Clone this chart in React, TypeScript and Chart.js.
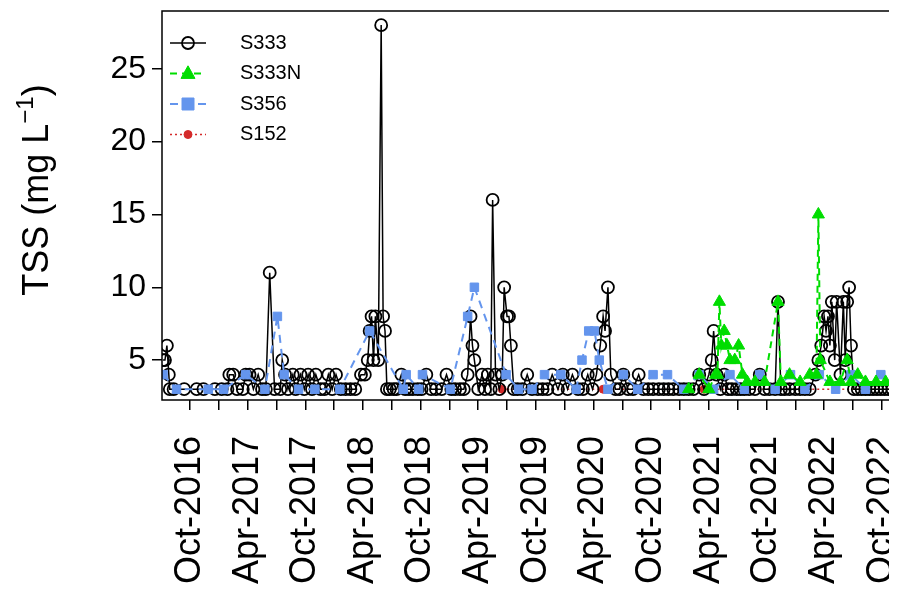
import { useEffect, useRef } from 'react';
import Chart from 'chart.js/auto';

// x values are month index counted from Jan 2016 (0 = Jan-2016)
const monthNames = ['Jan', 'Feb', 'Mar', 'Apr', 'May', 'Jun', 'Jul', 'Aug', 'Sep', 'Oct', 'Nov', 'Dec'];
const xTicks = [9, 12, 15, 18, 21, 24, 27, 30, 33, 36, 39, 42, 45, 48, 51, 54, 57, 60, 63, 66, 69, 72, 75, 78, 81];
const yTicks = [5, 10, 15, 20, 25];

const s333: [number, number][] = [
  [6.2, 5], [6.4, 5], [6.6, 6], [6.8, 4], [6.9, 3], [7.3, 3], [8.4, 3], [9.7, 3], [10.4, 3], [11.6, 3],
  [12.3, 3], [12.9, 3], [13.1, 4], [13.5, 4], [13.9, 3], [14.5, 3], [14.8, 4], [15.2, 4], [15.6, 3], [16.1, 4],
  [16.5, 3], [16.9, 3], [17.3, 11], [17.8, 3], [18.4, 3], [18.6, 5], [18.9, 4], [19.2, 3], [19.7, 4], [20.0, 3],
  [20.5, 4], [20.9, 3], [21.3, 4], [21.7, 3], [22.1, 4], [22.6, 3], [23.0, 3], [23.4, 4], [23.8, 3], [24.2, 4],
  [24.7, 3], [25.2, 3], [25.7, 3], [26.2, 3], [26.8, 4], [27.2, 4], [27.5, 5], [27.7, 7], [27.9, 8], [28.1, 5],
  [28.3, 8], [28.6, 5], [28.9, 28], [29.1, 8], [29.3, 7], [29.5, 3], [29.8, 3], [30.2, 3], [30.5, 3], [31.0, 4],
  [31.4, 3], [31.8, 3], [32.2, 3], [32.7, 3], [33.1, 3], [33.6, 4], [34.1, 3], [34.6, 3], [35.2, 3], [35.7, 4],
  [36.2, 3], [36.6, 3], [37.1, 3], [37.5, 3], [37.9, 4], [38.2, 8], [38.4, 6], [38.6, 5], [39.0, 3], [39.4, 4],
  [39.7, 3], [40.0, 4], [40.3, 3], [40.5, 16], [40.8, 4], [41.2, 3], [41.5, 4], [41.7, 10], [42.0, 8], [42.2, 8],
  [42.4, 6], [42.7, 3], [43.1, 3], [43.6, 3], [44.1, 4], [44.6, 3], [45.2, 3], [45.7, 3], [46.2, 3], [46.7, 4],
  [47.3, 3], [47.8, 4], [48.3, 3], [48.8, 4], [49.4, 3], [49.9, 3], [50.4, 4], [50.9, 3], [51.3, 4], [51.7, 6],
  [52.0, 8], [52.2, 7], [52.5, 10], [52.8, 4], [53.3, 3], [53.7, 3], [54.1, 4], [54.6, 3], [55.1, 3], [55.7, 4],
  [56.2, 3], [56.7, 3], [57.2, 3], [57.8, 3], [58.3, 3], [58.8, 3], [59.3, 3], [59.9, 3], [60.4, 3], [60.9, 3],
  [61.4, 3], [62.0, 4], [62.5, 3], [63.0, 4], [63.3, 5], [63.5, 7], [63.8, 4], [64.2, 3], [64.6, 4], [65.0, 3],
  [65.4, 3], [65.9, 3], [66.3, 3], [66.7, 3], [67.2, 3], [67.8, 3], [68.3, 4], [68.8, 3], [69.3, 3], [69.9, 3],
  [70.2, 9], [70.5, 3], [70.9, 3], [71.4, 3], [72.0, 3], [72.5, 3], [73.0, 3], [73.5, 3], [74.1, 4], [74.4, 5],
  [74.7, 6], [75.0, 8], [75.2, 7], [75.4, 8], [75.6, 6], [75.8, 9], [76.1, 5], [76.3, 9], [76.7, 4], [77.0, 9],
  [77.2, 5], [77.4, 9], [77.6, 10], [77.8, 6], [78.1, 3], [78.5, 3], [78.9, 3], [79.3, 3], [79.7, 3], [80.1, 3],
  [80.5, 3], [80.9, 3], [81.3, 3], [81.7, 3], [82.1, 3], [82.5, 3], [82.9, 3],
];

const s333n: [number, number][] = [
  [60.9, 3], [62.0, 4], [63.0, 3], [63.7, 4], [63.9, 4], [64.1, 9], [64.3, 6], [64.6, 7], [64.9, 6], [65.2, 5],
  [65.7, 5], [66.1, 6], [66.5, 4], [67.0, 3.5], [67.8, 3.5], [68.8, 3.5], [70.2, 9], [70.5, 3.5], [71.4, 4], [72.5, 3.5],
  [73.5, 4], [74.2, 4], [74.4, 15], [74.6, 5], [75.6, 3.5], [76.7, 3.5], [77.4, 5], [77.8, 3.5], [78.5, 4], [79.3, 3.5],
  [80.4, 3.5], [81.4, 3.5], [82.5, 3.5], [83.5, 3.5],
];

const s356: [number, number][] = [
  [6.2, 4], [7.6, 3], [10.9, 3], [12.5, 3], [14.8, 4], [16.8, 3], [18.1, 8], [18.8, 4], [20.3, 3], [22.0, 3],
  [24.6, 3], [27.7, 7], [31.2, 3], [31.5, 4], [32.8, 3], [33.2, 4], [36.1, 3], [37.9, 8], [38.6, 10], [41.9, 4],
  [43.2, 3], [44.6, 3], [45.9, 4], [47.6, 4], [49.2, 3], [49.8, 5], [50.5, 7], [51.1, 7], [51.6, 5], [52.5, 3],
  [54.1, 4], [55.6, 3], [57.2, 4], [58.7, 4], [60.4, 3], [62.0, 4], [63.5, 3], [65.2, 4], [66.7, 3], [68.3, 4],
  [69.9, 3], [71.5, 4], [73.0, 3], [74.5, 4], [76.2, 3], [77.8, 4], [79.3, 3], [80.9, 4], [82.5, 3], [84.0, 4],
];

const s152: [number, number][] = [
  [41.5, 3], [52.0, 3], [62.5, 3], [73.0, 3], [83.5, 3],
];

const toPts = (a: [number, number][]) => a.map(([x, y]) => ({ x, y }));
const FONT = '"Liberation Sans", Arial, sans-serif';

const zeroPad = (s: any) => {
  s.paddingTop = 0; s.paddingBottom = 0; s.paddingLeft = 0; s.paddingRight = 0;
};

const framePlugin = {
  id: 'frame',
  afterDraw(chart: any) {
    const { ctx, chartArea: a } = chart;
    ctx.save();
    ctx.strokeStyle = '#000';
    ctx.lineWidth = 1.5;
    ctx.strokeRect(a.left, a.top, a.right - a.left, a.bottom - a.top);

    // y axis title with superscript
    ctx.save();
    ctx.translate(30, 187);
    ctx.rotate(-Math.PI / 2);
    ctx.fillStyle = '#000';
    ctx.textBaseline = 'middle';
    ctx.textAlign = 'left';
    const main = 'TSS (mg L';
    ctx.font = `36px ${FONT}`;
    const w1 = ctx.measureText(main).width;
    ctx.font = `24px ${FONT}`;
    const sup = '−1';
    const w2 = ctx.measureText(sup).width;
    ctx.font = `36px ${FONT}`;
    const w3 = ctx.measureText(')').width;
    const x0 = -(w1 + w2 + w3) / 2;
    ctx.fillText(main, x0, 0);
    ctx.font = `24px ${FONT}`;
    ctx.fillText(sup, x0 + w1, -12);
    ctx.font = `36px ${FONT}`;
    ctx.fillText(')', x0 + w1 + w2, 0);
    ctx.restore();

    // legend
    ctx.font = `20px ${FONT}`;
    ctx.textBaseline = 'middle';
    chart.data.datasets.forEach((ds: any, i: number) => {
      const y = a.top + 32 + i * 30.5;
      const lx = a.left + 8;
      ctx.strokeStyle = ds.borderColor;
      ctx.lineWidth = ds.borderWidth;
      ctx.setLineDash(ds.borderDash || []);
      ctx.beginPath();
      ctx.moveTo(lx, y);
      ctx.lineTo(lx + 36, y);
      ctx.stroke();
      ctx.setLineDash([]);
      ctx.fillStyle = ds.pointBackgroundColor;
      ctx.strokeStyle = ds.pointBorderColor;
      ctx.lineWidth = ds.pointBorderWidth;
      const cx = lx + 18;
      const r = ds.pointRadius;
      ctx.beginPath();
      if (ds.pointStyle === 'rect') ctx.rect(cx - r, y - r, 2 * r, 2 * r);
      else if (ds.pointStyle === 'triangle') {
        ctx.moveTo(cx, y - r * 1.1); ctx.lineTo(cx + r, y + r * 0.7); ctx.lineTo(cx - r, y + r * 0.7); ctx.closePath();
      } else ctx.arc(cx, y, r, 0, Math.PI * 2);
      ctx.fill();
      ctx.stroke();
      ctx.fillStyle = '#000';
      ctx.fillText(ds.label, lx + 70, y);
    });
    ctx.restore();
  },
};

export default function App() {
  const ref = useRef<HTMLCanvasElement>(null);

  useEffect(() => {
    if (!ref.current) return;
    const chart = new Chart(ref.current, {
      type: 'line',
      data: {
        datasets: [
          {
            label: 'S333', data: toPts(s333), borderColor: '#000', borderWidth: 1.5, order: 3,
            pointStyle: 'circle', pointRadius: 6, pointBackgroundColor: 'rgba(0,0,0,0)',
            pointBorderColor: '#000', pointBorderWidth: 1.8,
          },
          {
            label: 'S333N', data: toPts(s333n), borderColor: '#00dd00', borderWidth: 2, borderDash: [7, 5], order: 1,
            pointStyle: 'triangle', pointRadius: 7, pointBackgroundColor: '#00dd00',
            pointBorderColor: '#00dd00', pointBorderWidth: 1,
          },
          {
            label: 'S356', data: toPts(s356), borderColor: '#6495ed', borderWidth: 2, borderDash: [8, 6], order: 2,
            pointStyle: 'rect', pointRadius: 6, pointBackgroundColor: '#6495ed',
            pointBorderColor: '#6495ed', pointBorderWidth: 1,
          },
          {
            label: 'S152', data: toPts(s152), borderColor: '#d42a2a', borderWidth: 1.5, borderDash: [2, 3], order: 4,
            pointStyle: 'circle', pointRadius: 4, pointBackgroundColor: '#d42a2a',
            pointBorderColor: '#d42a2a', pointBorderWidth: 1,
          },
        ],
      },
      options: {
        animation: false,
        responsive: false,
        layout: { padding: { top: 2, right: 12, left: 0, bottom: 0 } },
        plugins: { legend: { display: false }, tooltip: { enabled: false } },
        scales: {
          x: {
            type: 'linear', min: 6.09, max: 83.0,
            afterBuildTicks: (s: any) => { s.ticks = xTicks.map((v) => ({ value: v })); },
            afterFit: (s: any) => { s.height = 199; zeroPad(s); },
            grid: { drawOnChartArea: false, tickLength: 10, color: '#000', lineWidth: 1.5 },
            border: { display: false },
            ticks: {
              autoSkip: false, minRotation: 90, maxRotation: 90, color: '#000', padding: 26,
              font: { size: 36, family: FONT },
              callback: (v: any) => {
                const m = Number(v);
                if ((m - 9) % 6 !== 0) return '';
                return `${monthNames[m % 12]}-${2016 + Math.floor(m / 12)}`;
              },
            },
          },
          y: {
            min: 2.26, max: 28.97,
            afterBuildTicks: (s: any) => { s.ticks = yTicks.map((v) => ({ value: v })); },
            afterFit: (s: any) => { s.width = 154; zeroPad(s); },
            grid: { drawOnChartArea: false, tickLength: 10, color: '#000', lineWidth: 1.5 },
            border: { display: false },
            ticks: {
              color: '#000', padding: 6,
              font: { size: 32, family: FONT },
            },
          },
        },
      },
      plugins: [framePlugin],
    });
    return () => chart.destroy();
  }, []);

  return (
    <div style={{ width: 889, height: 591, overflow: 'hidden' }}>
      <canvas
        ref={ref}
        width={905}
        height={596}
        style={{ width: 905, height: 596, display: 'block', marginTop: -5 }}
      />
    </div>
  );
}
